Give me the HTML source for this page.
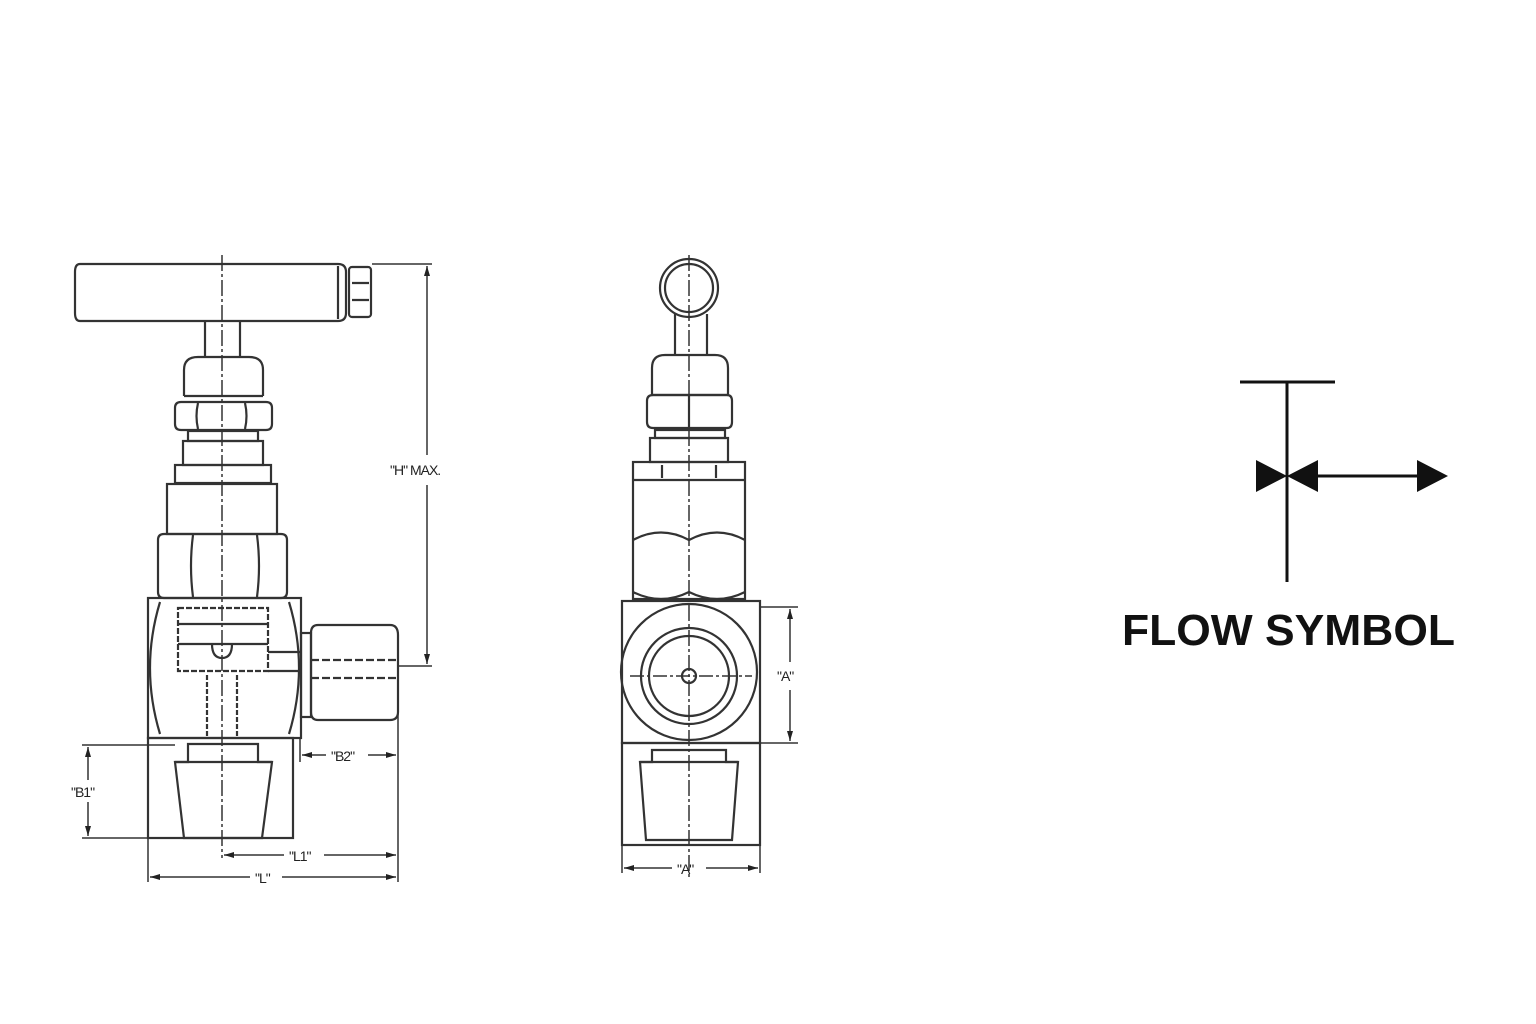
<!DOCTYPE html>
<html><head><meta charset="utf-8"><style>
html,body{margin:0;padding:0;background:#fff;}
svg{display:block;}
text{font-family:"Liberation Sans",sans-serif;fill:#222;}
</style></head><body>
<svg width="1536" height="1024" viewBox="0 0 1536 1024" xmlns="http://www.w3.org/2000/svg">
<defs>
<marker id="ar" viewBox="0 0 10 10" refX="10" refY="5" markerWidth="12" markerHeight="10" orient="auto-start-reverse" markerUnits="userSpaceOnUse">
<path d="M0,2 L10,5 L0,8 z" fill="#222"/></marker>
</defs>
<rect width="1536" height="1024" fill="#fff"/>
<g fill="none" stroke="#333" stroke-width="2.2">
<path d="M80,264 H338 Q346,264 346,272 V313 Q346,321 338,321 H80 Q75,321 75,313 V272 Q75,264 80,264 Z"/>
<line x1="338" y1="266" x2="338" y2="319"/>
<rect x="349" y="267" width="22" height="50" rx="3"/>
<line x1="352" y1="283" x2="369" y2="283"/><line x1="352" y1="300" x2="369" y2="300"/>
<line x1="205" y1="321" x2="205" y2="357"/><line x1="240" y1="321" x2="240" y2="357"/>
<path d="M184,396 V370 Q184,357 198,357 H249 Q263,357 263,370 V396"/>
<line x1="184" y1="396" x2="263" y2="396"/>
<path d="M181,402 H266 Q272,402 272,408 V424 Q272,430 266,430 H181 Q175,430 175,424 V408 Q175,402 181,402 Z"/>
<path d="M198,403 Q195,416 198,429 M245,403 Q248,416 245,429"/>
<rect x="188" y="431" width="70" height="10"/>
<rect x="183" y="441" width="80" height="24"/>
<rect x="175" y="465" width="96" height="18"/>
<rect x="167" y="484" width="110" height="50"/>
<path d="M164,534 H281 Q287,534 287,540 V592 Q287,598 281,598 H164 Q158,598 158,592 V540 Q158,534 164,534 Z"/>
<path d="M193,535 Q189,566 193,597 M257,535 Q261,566 257,597"/>
<rect x="148" y="598" width="153" height="140"/>
<path d="M160,602 Q140,668 160,734 M289,602 Q309,668 289,734"/>
<rect x="178" y="608" width="90" height="63" stroke-dasharray="6,2"/>
<line x1="178" y1="624" x2="268" y2="624"/>
<line x1="178" y1="644" x2="268" y2="644"/>
<path d="M212,644 Q212,658 222,658 Q232,658 232,644"/>
<line x1="268" y1="652" x2="300" y2="652"/>
<line x1="268" y1="671" x2="300" y2="671"/>
<line x1="207" y1="675" x2="207" y2="738" stroke-dasharray="5,2"/>
<line x1="237" y1="675" x2="237" y2="738" stroke-dasharray="5,2"/>
<rect x="301" y="633" width="10" height="84"/>
<path d="M318,625 H390 Q398,625 398,635 V712 Q398,720 390,720 H318 Q311,720 311,712 V633 Q311,625 318,625 Z"/>
<line x1="311" y1="660" x2="398" y2="660" stroke-dasharray="8,3"/>
<line x1="311" y1="678" x2="398" y2="678" stroke-dasharray="8,3"/>
<rect x="148" y="738" width="145" height="100"/>
<path d="M188,744 H258 V762 H272 L262,838 H184 L175,762 H188 Z"/>
<line x1="175" y1="762" x2="272" y2="762"/>
<line x1="222" y1="255" x2="222" y2="858" stroke-dasharray="16,3,3,3" stroke-width="1.5"/>
<line x1="372" y1="264" x2="432" y2="264" stroke-width="1.5"/>
<line x1="398" y1="666" x2="432" y2="666" stroke-width="1.5"/>
<line x1="427" y1="266" x2="427" y2="455" stroke-width="1.5" marker-start="url(#ar)"/>
<line x1="427" y1="485" x2="427" y2="664" stroke-width="1.5" marker-end="url(#ar)"/>
<line x1="82" y1="745" x2="175" y2="745" stroke-width="1.5"/>
<line x1="82" y1="838" x2="175" y2="838" stroke-width="1.5"/>
<line x1="88" y1="747" x2="88" y2="780" stroke-width="1.5" marker-start="url(#ar)"/>
<line x1="88" y1="802" x2="88" y2="836" stroke-width="1.5" marker-end="url(#ar)"/>
<line x1="300" y1="738" x2="300" y2="762" stroke-width="1.5"/>
<line x1="398" y1="680" x2="398" y2="882" stroke-width="1.5"/>
<line x1="148" y1="838" x2="148" y2="882" stroke-width="1.5"/>
<line x1="302" y1="755" x2="326" y2="755" stroke-width="1.5" marker-start="url(#ar)"/>
<line x1="368" y1="755" x2="396" y2="755" stroke-width="1.5" marker-end="url(#ar)"/>
<line x1="224" y1="855" x2="284" y2="855" stroke-width="1.5" marker-start="url(#ar)"/>
<line x1="324" y1="855" x2="396" y2="855" stroke-width="1.5" marker-end="url(#ar)"/>
<line x1="150" y1="877" x2="250" y2="877" stroke-width="1.5" marker-start="url(#ar)"/>
<line x1="282" y1="877" x2="396" y2="877" stroke-width="1.5" marker-end="url(#ar)"/>

<circle cx="689" cy="288" r="29"/>
<circle cx="689" cy="288" r="24"/>
<line x1="675" y1="314" x2="675" y2="355"/><line x1="707" y1="314" x2="707" y2="355"/>
<path d="M652,395 V368 Q652,355 665,355 H715 Q728,355 728,368 V395 Z"/>
<path d="M653,395 H727 Q732,395 732,401 V422 Q732,428 727,428 H653 Q647,428 647,422 V401 Q647,395 653,395 Z"/>
<line x1="689" y1="396" x2="689" y2="428"/>
<rect x="655" y="430" width="70" height="8"/>
<rect x="650" y="438" width="78" height="24"/>
<rect x="633" y="462" width="112" height="137"/>
<line x1="633" y1="480" x2="745" y2="480"/>
<path d="M633,540 Q661,525 689,540 Q717,525 745,540"/>
<path d="M633,592 Q661,606 689,592 Q717,606 745,592"/>
<line x1="662" y1="465" x2="662" y2="478"/><line x1="716" y1="465" x2="716" y2="478"/>
<rect x="622" y="601" width="138" height="142"/>
<ellipse cx="689" cy="672" rx="68" ry="68"/>
<circle cx="689" cy="676" r="48"/>
<circle cx="689" cy="676" r="40"/>
<circle cx="689" cy="676" r="7"/>
<line x1="630" y1="676" x2="752" y2="676" stroke-dasharray="14,3,3,3" stroke-width="1.5"/>
<rect x="622" y="743" width="138" height="102"/>
<path d="M652,750 H726 V762 H738 L732,840 H646 L640,762 H652 Z"/>
<line x1="640" y1="762" x2="738" y2="762"/>
<line x1="689" y1="255" x2="689" y2="878" stroke-dasharray="16,3,3,3" stroke-width="1.5"/>
<line x1="760" y1="607" x2="798" y2="607" stroke-width="1.5"/>
<line x1="760" y1="743" x2="798" y2="743" stroke-width="1.5"/>
<line x1="790" y1="609" x2="790" y2="662" stroke-width="1.5" marker-start="url(#ar)"/>
<line x1="790" y1="690" x2="790" y2="741" stroke-width="1.5" marker-end="url(#ar)"/>
<line x1="622" y1="845" x2="622" y2="873" stroke-width="1.5"/>
<line x1="760" y1="845" x2="760" y2="873" stroke-width="1.5"/>
<line x1="624" y1="868" x2="672" y2="868" stroke-width="1.5" marker-start="url(#ar)"/>
<line x1="706" y1="868" x2="758" y2="868" stroke-width="1.5" marker-end="url(#ar)"/>
</g>
<g font-size="14" letter-spacing="-1">
<text x="390" y="475">"H" MAX.</text>
<text x="71" y="797">"B1"</text>
<text x="331" y="761">"B2"</text>
<text x="289" y="861">"L1"</text>
<text x="255" y="883">"L"</text>
<text x="777" y="681">"A"</text>
<text x="677" y="874">"A"</text>
</g>
<g stroke="#111" stroke-width="3" fill="none">
<line x1="1240" y1="382" x2="1335" y2="382"/>
<line x1="1287" y1="382" x2="1287" y2="582"/>
<line x1="1318" y1="476" x2="1420" y2="476"/>
</g>
<g fill="#111">
<polygon points="1256,460 1256,492 1287,476"/>
<polygon points="1318,460 1318,492 1287,476"/>
<polygon points="1448,476 1417,460 1417,492"/>
</g>
<text x="1122" y="645" font-size="44" font-weight="bold" textLength="333" lengthAdjust="spacingAndGlyphs" style="fill:#111">FLOW SYMBOL</text>
</svg>
</body></html>
